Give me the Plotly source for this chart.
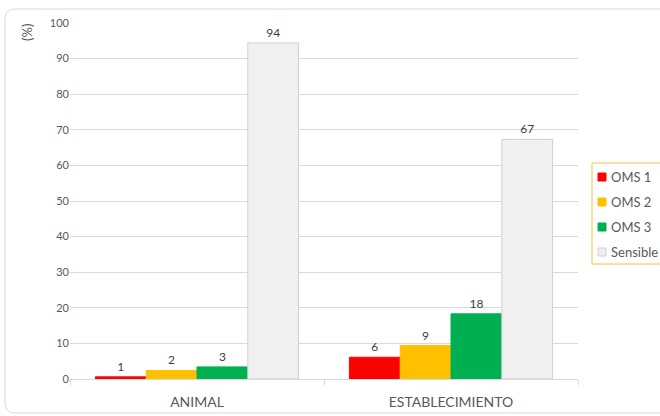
import plotly.graph_objects as go

# Categories and series values (%)
categories = ["ANIMAL", "ESTABLECIMIENTO"]
series_names = ["OMS 1", "OMS 2", "OMS 3", "Sensible"]
oms1 = [0.6, 6.1]
oms2 = [2.4, 9.4]
oms3 = [3.4, 18.3]
sensible = [94.4, 67.3]
y_ticks = [0, 10, 20, 30, 40, 50, 60, 70, 80, 90, 100]

series_values = [oms1, oms2, oms3, sensible]
fills = ["#FF0000", "#FFC000", "#00B050", "#F0F0F0"]
outlines = ["#FF0000", "#FFC000", "#00B050", "#D0D0D0"]

FONT = "Lato"
GREY = "#595959"

fig = go.Figure()
for i, (name, vals) in enumerate(zip(series_names, series_values)):
    fig.add_trace(go.Bar(
        x=categories, y=vals, name=name,
        marker=dict(color=fills[i], line=dict(color=outlines[i], width=1)),
        text=vals, texttemplate="%{y:.0f}", textposition="outside",
        textfont=dict(family=FONT, size=12, color="#404040"),
        cliponaxis=False, showlegend=False,
    ))

W, H = 660, 416
ml, mr, mt, mb = 70, 82, 23, 37
pw, ph = W - ml - mr, H - mt - mb


def px(x):
    return (x - ml) / pw


def py(y):
    return (H - mb - y) / ph


# rounded outer frame
x0, x1, y0, y1, r = 5, 700, 9, 413, 10
rx, ry = r / pw, r / ph
frame = (
    f"M {px(x0)+rx} {py(y0)} L {px(x1)-rx} {py(y0)} "
    f"Q {px(x1)} {py(y0)} {px(x1)} {py(y0)-ry} "
    f"L {px(x1)} {py(y1)+ry} Q {px(x1)} {py(y1)} {px(x1)-rx} {py(y1)} "
    f"L {px(x0)+rx} {py(y1)} Q {px(x0)} {py(y1)} {px(x0)} {py(y1)+ry} "
    f"L {px(x0)} {py(y0)-ry} Q {px(x0)} {py(y0)} {px(x0)+rx} {py(y0)} Z"
)

shapes = [dict(type="path", xref="paper", yref="paper", path=frame,
               line=dict(color="#D9D9D9", width=1), layer="below")]
annotations = [dict(text="(%)", xref="paper", yref="paper", x=px(27), y=py(33),
                    xanchor="center", yanchor="middle",
                    showarrow=False, textangle=-90,
                    font=dict(family=FONT, size=13, color=GREY))]

# legend box with one swatch + label per series
shapes.append(dict(type="rect", xref="paper", yref="paper",
                   x0=px(592), x1=px(720), y0=py(163), y1=py(264),
                   line=dict(color="#F5C242", width=1), fillcolor="white"))
for i, name in enumerate(series_names):
    cy = 177 + 25 * i
    shapes.append(dict(type="rect", xref="paper", yref="paper",
                       x0=px(598), x1=px(606), y0=py(cy - 4), y1=py(cy + 4),
                       fillcolor=fills[i], line=dict(color=outlines[i], width=1)))
    annotations.append(dict(text=name, xref="paper", yref="paper",
                            x=px(609), y=py(cy), xanchor="left", yanchor="middle",
                            showarrow=False,
                            font=dict(family=FONT, size=13, color=GREY)))

fig.update_layout(
    width=W, height=H,
    margin=dict(l=ml, r=mr, t=mt, b=mb, autoexpand=False),
    paper_bgcolor="white", plot_bgcolor="white",
    barmode="group", bargap=0.2, bargroupgap=0,
    font=dict(family=FONT, color=GREY),
    showlegend=False,
    xaxis=dict(
        showline=True, linecolor="#D9D9D9", linewidth=1,
        ticks="outside", tickson="boundaries", ticklen=5, tickcolor="#D9D9D9",
        tickfont=dict(family=FONT, size=14, color=GREY),
        ticklabelstandoff=10,
        showgrid=False,
    ),
    yaxis=dict(
        range=[0, 100], tickvals=y_ticks, showgrid=True, gridcolor="#D9D9D9",
        gridwidth=1, zeroline=False, showline=False, ticks="",
        tickfont=dict(family=FONT, size=11, color=GREY),
    ),
    shapes=shapes,
    annotations=annotations,
)

fig.write_html("out.html")
